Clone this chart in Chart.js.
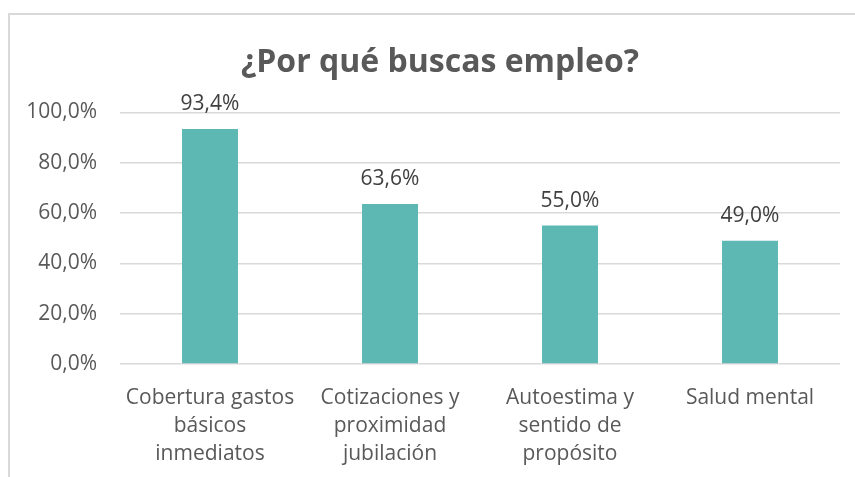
<!DOCTYPE html>
<html>
<head>
<meta charset="utf-8">
<script src="https://cdn.jsdelivr.net/npm/chart.js@4/dist/chart.umd.min.js"></script>
<style>
  html, body { margin: 0; padding: 0; background: #ffffff; overflow: hidden; width: 855px; height: 477px; }
  #frame { position: absolute; left: 8px; top: 13px; width: 900px; height: 520px;
           border-left: 2px solid #d9d9d9; border-top: 2px solid #d9d9d9; box-sizing: border-box; }
  #wrap { position: absolute; left: 8px; top: 0; width: 864px; height: 477px; }
</style>
</head>
<body>
<div id="frame"></div>
<div id="wrap"><canvas id="c" width="864" height="477"></canvas></div>
<script>
const titleText = '¿Por qué buscas empleo?';
const categories = [
  ['Cobertura gastos', 'básicos', 'inmediatos'],
  ['Cotizaciones y', 'proximidad', 'jubilación'],
  ['Autoestima y', 'sentido de', 'propósito'],
  ['Salud mental']
];
const values = [93.4, 63.6, 55.0, 49.0];
const yTicks = [0, 20, 40, 60, 80, 100];

const fmt = v => v.toFixed(1).replace('.', ',') + '%';
const FONT = '"Open Sans", Lato, sans-serif';

const dataLabels = {
  id: 'dataLabels',
  afterDatasetsDraw(chart) {
    const ctx = chart.ctx;
    const meta = chart.getDatasetMeta(0);
    ctx.save();
    ctx.font = '21px ' + FONT;
    ctx.fillStyle = '#404040';
    ctx.textAlign = 'center';
    ctx.textBaseline = 'alphabetic';
    meta.data.forEach((bar, i) => {
      ctx.fillText(fmt(values[i]), bar.x, bar.y - 19);
    });
    ctx.restore();
  }
};

new Chart(document.getElementById('c'), {
  type: 'bar',
  data: {
    labels: categories,
    datasets: [{
      data: values,
      backgroundColor: '#5db8b3',
      borderWidth: 0,
      barPercentage: 0.311,
      categoryPercentage: 1.0
    }]
  },
  options: {
    responsive: false,
    animation: false,
    layout: { padding: { left: 12, right: 12, top: 0, bottom: 0 } },
    plugins: {
      legend: { display: false },
      tooltip: { enabled: false },
      title: {
        display: true,
        text: titleText,
        color: '#595959',
        font: { family: FONT, size: 32, weight: 'bold', lineHeight: 1.2 },
        padding: { top: 44, bottom: 30 }
      }
    },
    scales: {
      x: {
        grid: { display: false, drawTicks: false },
        border: { display: false },
        ticks: {
          color: '#595959',
          font: { family: FONT, size: 21, lineHeight: 1.33 },
          padding: 20,
          maxRotation: 0,
          autoSkip: false
        },
        afterFit(scale) { scale.height = 113; }
      },
      y: {
        min: 0,
        max: 100,
        afterBuildTicks(scale) { scale.ticks = yTicks.map(v => ({ value: v })); },
        grid: { color: '#d9d9d9', lineWidth: 1.5, drawTicks: false },
        border: { display: false },
        ticks: {
          color: '#595959',
          font: { family: FONT, size: 21 },
          padding: 23,
          callback: v => fmt(v)
        },
        afterFit(scale) { scale.width = 100; }
      },
      ySpacer: {
        position: 'right',
        display: true,
        grid: { display: false, drawTicks: false },
        border: { display: false },
        ticks: { display: false },
        afterFit(scale) { scale.width = 20; }
      }
    }
  },
  plugins: [dataLabels]
});
</script>
</body>
</html>
